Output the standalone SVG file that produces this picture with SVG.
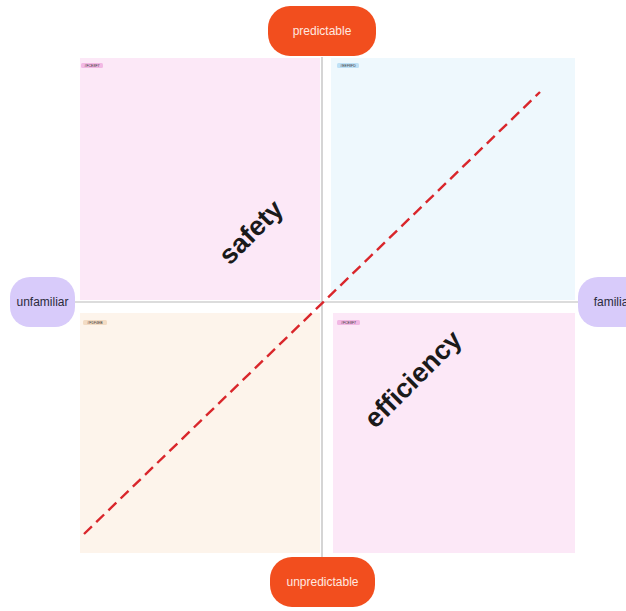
<svg xmlns="http://www.w3.org/2000/svg" width="626" height="611" viewBox="0 0 626 611">
  <style>
    .pill-orange { fill: #F24E1E; }
    .pill-purple { fill: #D8CBFA; }
    .pill-text-light { font-family: "Liberation Sans", Arial, sans-serif; font-size: 12px; fill: #FFE9E0; text-anchor: middle; dominant-baseline: central; }
    .pill-text-dark { font-family: "Liberation Sans", Arial, sans-serif; font-size: 12px; fill: #2A2A3A; text-anchor: middle; dominant-baseline: central; }
    .axis { stroke: #B9B9B9; stroke-width: 1.2; fill: none; }
    .tag-text { font-family: "Liberation Sans", Arial, sans-serif; font-size: 3.5px; fill: #333; text-anchor: middle; dominant-baseline: central; }
    .big { font-family: "Liberation Sans", Arial, sans-serif; font-weight: bold; font-size: 27px; fill: #1A1A1A; text-anchor: middle; dominant-baseline: central; }
  </style>
  <rect width="626" height="611" fill="#FFFFFF"/>

  <!-- quadrants -->
  <g id="quadrant-top-left">
    <rect x="80" y="58" width="240" height="242" fill="#FCE8F7"/>
    <rect x="81" y="63" width="22" height="5" rx="1.5" fill="#F2B8E4"/>
    <text class="tag-text" x="92" y="65.5">#FCE8F7</text>
  </g>
  <g id="quadrant-top-right">
    <rect x="331" y="58" width="244" height="242" fill="#EEF8FD"/>
    <rect x="337" y="63" width="22" height="5" rx="1.5" fill="#BFE1F6"/>
    <text class="tag-text" x="348" y="65.5">#EEF8FD</text>
  </g>
  <g id="quadrant-bottom-left">
    <rect x="80" y="313" width="240" height="240" fill="#FDF4EB"/>
    <rect x="83" y="320" width="24" height="5" rx="1.5" fill="#F3DCC4"/>
    <text class="tag-text" x="95" y="322.5">#FDF4EB</text>
  </g>
  <g id="quadrant-bottom-right">
    <rect x="333" y="313" width="242" height="240" fill="#FCE8F7"/>
    <rect x="337" y="320" width="23" height="5" rx="1.5" fill="#F2B8E4"/>
    <text class="tag-text" x="348.5" y="322.5">#FCE8F7</text>
  </g>

  <!-- axes and diagonal -->
  <g id="connectors">
    <line class="axis" x1="322" y1="57" x2="322" y2="558"/>
    <line class="axis" x1="75" y1="302" x2="580" y2="302"/>
    <line x1="84" y1="534" x2="540" y2="92" stroke="#D9262B" stroke-width="2.4" stroke-dasharray="11 6"/>
  </g>

  <!-- quadrant labels -->
  <g id="label-safety">
    <text class="big" x="251" y="232" transform="rotate(-45 251 232)">safety</text>
  </g>
  <g id="label-efficiency">
    <text class="big" x="413" y="379" transform="rotate(-45 413 379)">efficiency</text>
  </g>

  <!-- axis end pills -->
  <g id="pill-predictable">
    <rect class="pill-orange" x="268" y="6" width="108" height="50" rx="22"/>
    <text class="pill-text-light" x="322" y="31">predictable</text>
  </g>
  <g id="pill-unpredictable">
    <rect class="pill-orange" x="270" y="557" width="105" height="50" rx="22"/>
    <text class="pill-text-light" x="322.5" y="582">unpredictable</text>
  </g>
  <g id="pill-unfamiliar">
    <rect class="pill-purple" x="10" y="277" width="65" height="50" rx="20"/>
    <text class="pill-text-dark" x="42.5" y="302">unfamiliar</text>
  </g>
  <g id="pill-familiar">
    <rect class="pill-purple" x="578" y="277" width="70" height="50" rx="20"/>
    <text class="pill-text-dark" x="613" y="302">familiar</text>
  </g>
</svg>
